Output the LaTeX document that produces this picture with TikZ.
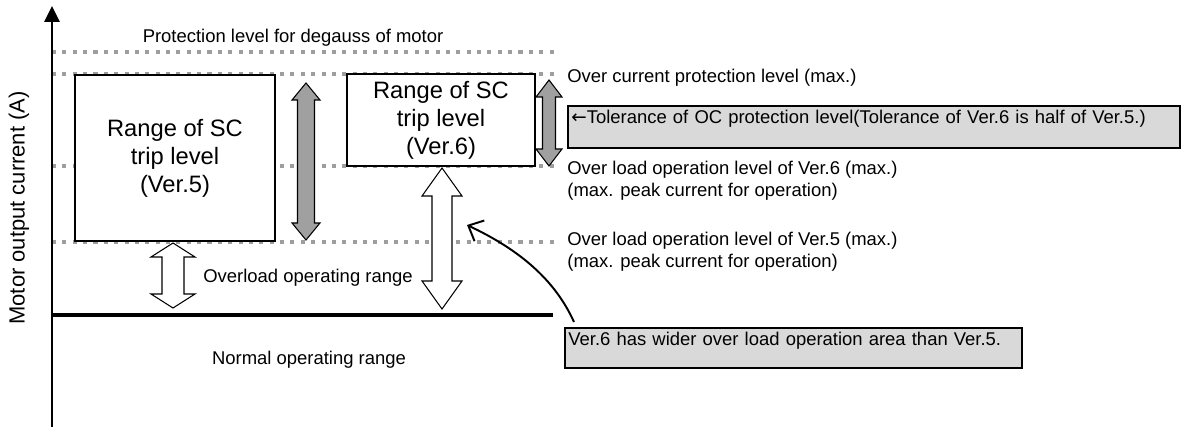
\documentclass[tikz,border=0pt]{standalone}
\usepackage{fontspec}
\setmainfont{Liberation Sans}
\newfontfamily\arrowfont{DejaVu Sans}
\usetikzlibrary{arrows.meta, positioning}

\definecolor{levelgray}{HTML}{9E9E9E}
\definecolor{arrowgray}{HTML}{A0A0A0}
\definecolor{notegray}{HTML}{D9D9D9}

% double headed block arrow: style, x, top, bottom, shaft half, head half, head length
\newcommand{\dblarrow}[7]{%
  \draw[#1] (#2,#3) -- ({#2+#6},{#3+#7}) -- ({#2+#5},{#3+#7})
    -- ({#2+#5},{#4-#7}) -- ({#2+#6},{#4-#7}) -- (#2,#4)
    -- ({#2-#6},{#4-#7}) -- ({#2-#5},{#4-#7})
    -- ({#2-#5},{#3+#7}) -- ({#2-#6},{#3+#7}) -- cycle;}

\tikzset{
  level/.style={levelgray, line width=2.3pt, dash pattern=on 2.3pt off 3.6pt},
  rangebox/.style={draw, fill=white, line width=0.8pt, align=center,
    font=\fontsize{13.5}{16}\selectfont},
  lab/.style={font=\fontsize{10.5}{12.5}\selectfont, align=left, inner sep=0pt},
  note/.style={draw, line width=1pt, fill=notegray, anchor=north west,
    font=\fontsize{10.5}{12.5}\selectfont, align=left, inner xsep=2pt,
    inner ysep=2pt, text height=8pt},
  blockarrow/.style={draw, line width=0.6pt},
}

\begin{document}
\begin{tikzpicture}[x=0.02cm, y=-0.02cm]
\useasboundingbox (0,0) rectangle (1192,428);

% current levels
\draw[level] (52,52) -- (555,52);
\draw[level] (52,74) -- (555,74);
\draw[level] (52,166) -- (555,166);
\draw[level] (52,242) -- (555,242);
\draw[line width=2.8pt] (52,315) -- (553,315);

% axis
\draw[line width=1.5pt, -{Triangle[width=0.3cm, length=0.32cm]}] (52,427) -- (52,6);
\node[rotate=90, font=\fontsize{12.5}{14}\selectfont] (ylab) at (19,208) {Motor output current (A)};

% SC trip ranges
\node[rangebox, minimum width=4cm, minimum height=3.32cm] (sc5) at (175,158)
  {Range of SC\\trip level\\(Ver.5)};
\node[rangebox, minimum width=3.76cm, minimum height=1.84cm] (sc6) at (441,120)
  {Range of SC\\trip level\\(Ver.6)};

% tolerance and overload arrows
\dblarrow{blockarrow, fill=arrowgray}{306}{83}{240}{8.5}{14}{17}
\dblarrow{blockarrow, fill=arrowgray}{549}{80}{166}{6.5}{13}{17}
\dblarrow{blockarrow, fill=white}{442}{168}{309}{10}{20}{28}
\dblarrow{blockarrow, fill=white}{173}{243}{308}{11}{22}{14}

% texts
\node[lab] (degauss) at (293,38) {Protection level for degauss of motor};
\node[lab, anchor=west] (oc) at (567,78) {Over current protection level (max.)};
\node[lab, anchor=west] (ol6) at (567,181) {Over load operation level of Ver.6 (max.)\\(max. peak current for operation)};
\node[lab, anchor=west] (ol5) at (567,252) {Over load operation level of Ver.5 (max.)\\(max. peak current for operation)};
\node[lab] (olrange) at (308,278) {Overload operating range};
\node[lab] (normal) at (309,360) {Normal operating range};

% notes
\node[note, text width=12.1cm, text depth=11.8pt] (tol) at (567,105)
  {{\arrowfont ←}Tolerance of OC protection level(Tolerance of Ver.6 is half of Ver.5.)};
\node[note, text width=9.0cm, text depth=10.7pt] (wider) at (564,327)
  {Ver.6 has wider over load operation area than Ver.5.};

\coordinate (widerfrom) at (574,322);
\coordinate (widerto) at (467,225);
\draw[line width=1.1pt, -{Straight Barb[length=7pt, width=13pt]}]
  (widerfrom) .. controls (555,280) and (520,250) .. (widerto);
\end{tikzpicture}
\end{document}
